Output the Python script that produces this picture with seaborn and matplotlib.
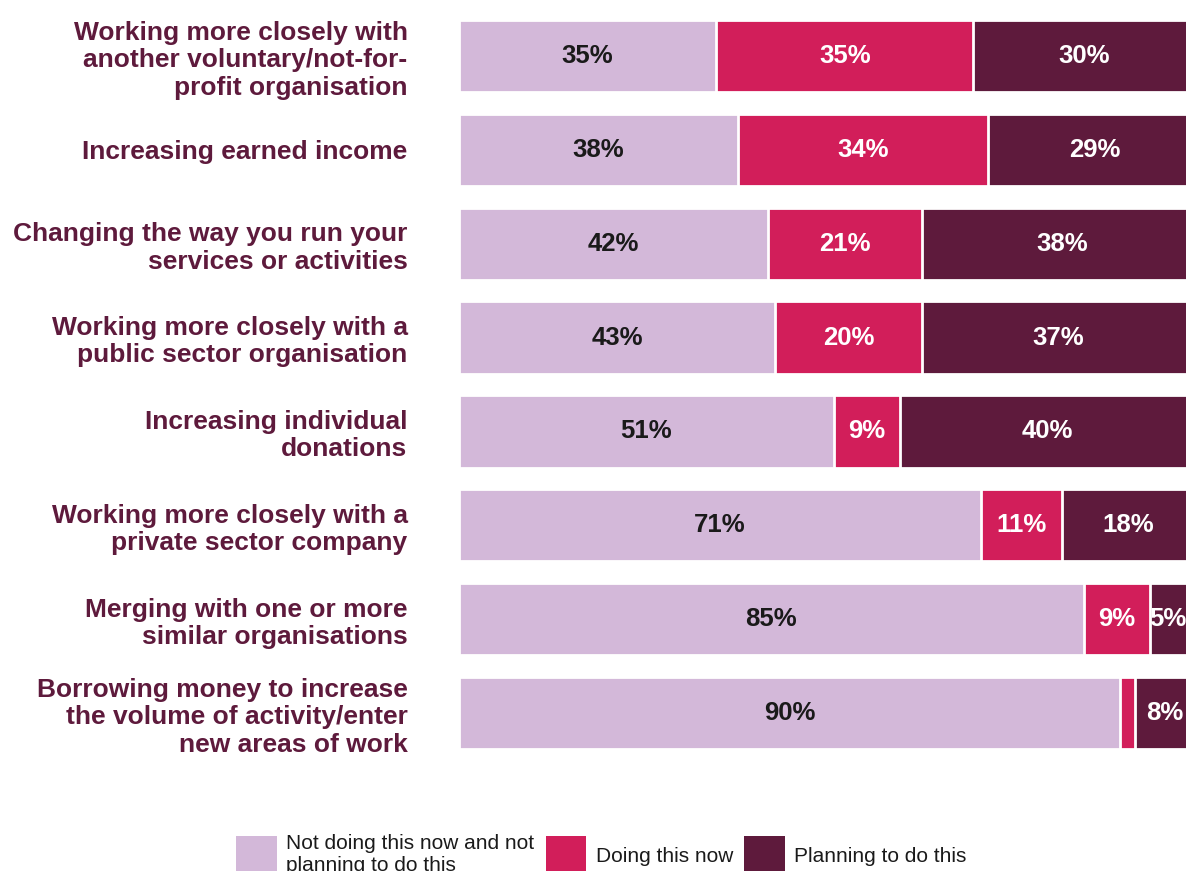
import matplotlib
matplotlib.use("Agg")
import matplotlib.pyplot as plt
import seaborn as sns
import pandas as pd
from matplotlib.patches import Patch

categories = [
    "Working more closely with\nanother voluntary/not-for-\nprofit organisation",
    "Increasing earned income",
    "Changing the way you run your\nservices or activities",
    "Working more closely with a\npublic sector organisation",
    "Increasing individual\ndonations",
    "Working more closely with a\nprivate sector company",
    "Merging with one or more\nsimilar organisations",
    "Borrowing money to increase\nthe volume of activity/enter\nnew areas of work",
]
not_doing = [35, 38, 42, 43, 51, 71, 85, 90]
doing_now = [35, 34, 21, 20, 9, 11, 9, 2]
planning = [30, 29, 38, 37, 40, 18, 5, 8]

series_names = ["Not doing this now and not\nplanning to do this",
                "Doing this now", "Planning to do this"]
colors = ["#D3B8D9", "#D21E5A", "#5E1A3C"]
text_colors = ["#1a1a1a", "white", "white"]
label_color = "#5E1A3C"

df = pd.DataFrame({
    "category": categories,
    "not_doing": not_doing,
    "doing_now": doing_now,
    "planning": planning,
})
cols = ["not_doing", "doing_now", "planning"]
cum = df[cols].cumsum(axis=1)
starts = cum - df[cols]

sns.set_theme(style="white")
plt.rcParams["font.family"] = ["Liberation Sans", "DejaVu Sans"]

W, H = 1186, 871
fig = plt.figure(figsize=(W / 100, H / 100), dpi=100)
left_px, right_px = 459, 1194
top_px, bottom_px = 9, 760
ax = fig.add_axes([left_px / W, 1 - bottom_px / H,
                   (right_px - left_px) / W, (bottom_px - top_px) / H])

# stacked bars: draw cumulative totals from the outermost layer inwards
for i in reversed(range(len(cols))):
    plot_df = pd.DataFrame({"category": df["category"], "end": cum[cols[i]]})
    sns.barplot(data=plot_df, x="end", y="category", orient="h",
                color=colors[i], saturation=1, width=0.77,
                edgecolor="white", linewidth=2, ax=ax)

# value labels centred inside each segment
for i, c in enumerate(cols):
    for row, (v, s) in enumerate(zip(df[c], starts[c])):
        if v < 3:
            continue
        ax.text(s + v / 2, row, f"{v}%", ha="center", va="center",
                fontsize=18.5, fontweight="bold", color=text_colors[i])

ax.set_xlim(0, 100)
ax.set_ylim(len(categories) - 0.5, -0.5)
ax.set_xlabel("")
ax.set_ylabel("")
ax.set_xticks([])
for sp in ax.spines.values():
    sp.set_visible(False)
ax.tick_params(axis="y", length=0, pad=37)
ax.set_yticks(range(len(categories)))
ax.set_yticklabels(categories, fontsize=19, fontweight="bold",
                   color=label_color, ha="right", linespacing=1.18)

handles = [Patch(facecolor=col, edgecolor="none") for col in colors]
fig.legend(handles, series_names, loc="upper left",
           bbox_to_anchor=(236 / W, 1 - 834 / H), ncol=3, frameon=False,
           fontsize=15, handlelength=1.95, handleheight=2.6,
           handletextpad=0.45, columnspacing=0.55, borderpad=0,
           borderaxespad=0, labelspacing=0, labelcolor="#1a1a1a")

fig.savefig("out.png", dpi=100)
